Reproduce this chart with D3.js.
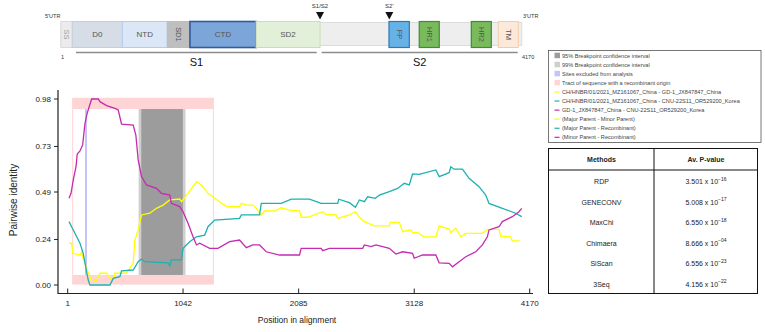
<!DOCTYPE html>
<html><head>
<meta charset="utf-8">
<script src="https://cdn.jsdelivr.net/npm/d3@7"></script>
<style>
  body { margin: 0; background: #fff; }
  svg text { font-family: "Liberation Sans", Arial, sans-serif; }
</style>
</head>
<body>
<svg id="chart" width="765" height="332"></svg>
<script>

// ---- genome map ----
const domainNames  = ["SS", "D0", "NTD", "SD1", "CTD", "SD2", "FP", "HR1", "HR2", "TM"];
const domainStarts = [1, 103, 556, 963, 1168, 1766, 2969, 3243, 3714, 3958];
const domainEnds   = [103, 556, 963, 1168, 1766, 2345, 3153, 3424, 3895, 4139];
const domainFill   = ["#ececec", "#d6dde7", "#dbe7f6", "#bfbfbf", "#7ca5da", "#e2f0d9", "#66b2e6", "#79ba5c", "#79ba5c", "#fde9d9"];
const domainStroke = ["#dadada", "#c3cfdd", "#b3cdef", "#bdbdbd", "#2f5c9c", "#c6e0b4", "#2e78b8", "#3f8a3f", "#3f8a3f", "#f7caa9"];
const domainVertical = [true, false, false, true, false, false, true, true, true, true];
const cleavageSites = ["S1/S2", "S2'"];
const cleavagePos   = [2345, 2972];
const subunitNames  = ["S1", "S2"];
const subunitStarts = [137, 2360];
const subunitEnds   = [2315, 4134];

// ---- recombination plot ----
const xTicks = [1, 1042, 2085, 3128, 4170];
const yTicks = [0.00, 0.24, 0.49, 0.73, 0.98];
const tract = [46, 1316];
const ci99 = [641, 1064];
const ci95 = [665, 1040];
const excludedSite = 166;

// (Major Parent - Minor Parent)
const yellowPos = [13,37,46,112,127,136,157,177,202,217,262,292,352,382,412,427,532,592,607,637,667,742,802,862,922,1012,1027,1087,1163,1208,1267,1372,1433,1552,1568,1613,1672,1703,1748,1778,1868,1928,2003,2093,2108,2167,2302,2333,2423,2438,2543,2597,2633,2678,2768,2903,2912,2993,3023,3098,3113,3158,3218,3323,3353,3443,3458,3503,3548,3593,3743,3788,3893,3908,3998,4013,4079];
const yellowVal = [0.220,0.220,0.167,0.158,0.175,0.149,0.114,0.079,0.044,0.017,0.026,0.062,0.062,0.035,0.026,0.062,0.062,0.114,0.237,0.290,0.369,0.378,0.404,0.421,0.448,0.453,0.439,0.483,0.544,0.527,0.483,0.439,0.413,0.413,0.430,0.421,0.421,0.404,0.369,0.390,0.390,0.407,0.395,0.391,0.357,0.357,0.386,0.372,0.369,0.351,0.369,0.386,0.357,0.334,0.312,0.312,0.330,0.330,0.281,0.290,0.276,0.276,0.254,0.254,0.312,0.295,0.276,0.299,0.254,0.272,0.272,0.293,0.293,0.258,0.254,0.233,0.233];

// (Major Parent - Recombinant)
const tealPos = [13,51,112,141,166,186,202,382,412,472,487,592,637,667,697,907,922,937,1027,1042,1102,1163,1237,1267,1327,1552,1568,1732,1748,1928,2018,2183,2288,2438,2447,2543,2597,2633,2678,2708,2777,2813,2903,2978,3038,3083,3113,3173,3323,3353,3443,3458,3488,3563,3623,3713,3773,3803,3923,4043,4098];
const tealVal = [0.334,0.290,0.220,0.167,0.088,0.026,0.000,0.000,0.035,0.044,0.075,0.079,0.123,0.137,0.123,0.117,0.100,0.132,0.132,0.193,0.228,0.254,0.263,0.307,0.342,0.351,0.369,0.369,0.430,0.430,0.452,0.452,0.430,0.430,0.452,0.434,0.409,0.448,0.439,0.465,0.457,0.474,0.492,0.509,0.536,0.527,0.585,0.583,0.606,0.571,0.592,0.623,0.610,0.610,0.562,0.518,0.474,0.430,0.404,0.378,0.360];

// (Minor Parent - Recombinant)
const magentaPos = [13,31,51,76,87,112,136,157,177,195,217,277,292,352,427,457,487,592,616,637,667,712,802,847,922,937,1012,1042,1087,1132,1163,1192,1282,1357,1462,1552,1613,1672,1732,1793,1913,2093,2108,2288,2302,2363,2663,2678,2738,2783,2903,2963,3023,3113,3128,3203,3323,3353,3443,3473,3533,3593,3683,3743,3788,3803,3893,3923,4013,4073,4098];
const magentaVal = [0.457,0.483,0.553,0.623,0.690,0.706,0.738,0.852,0.905,0.939,0.980,0.980,0.966,0.945,0.931,0.922,0.847,0.843,0.790,0.659,0.571,0.527,0.509,0.483,0.474,0.430,0.413,0.386,0.325,0.254,0.211,0.220,0.193,0.193,0.228,0.237,0.197,0.211,0.211,0.175,0.158,0.158,0.193,0.193,0.181,0.193,0.193,0.211,0.202,0.211,0.193,0.163,0.175,0.167,0.141,0.158,0.158,0.117,0.114,0.096,0.123,0.149,0.175,0.211,0.254,0.290,0.307,0.334,0.360,0.386,0.404];

const seriesColors = ["#ffff00", "#1fb0b0", "#c42bb0"];

// ---- legend ----
const legendLabels = ["95% Breakpoint confidence interval", "99% Breakpoint confidence interval",
  "Sites excluded from analysis", "Tract of sequence with a recombinant origin",
  "CH/HNBR/01/2021_MZ161067_China - GD-1_JX847847_China",
  "CH/HNBR/01/2021_MZ161067_China - CNU-22S11_OR529200_Korea",
  "GD-1_JX847847_China - CNU-22S11_OR529200_Korea",
  "(Major Parent - Minor Parent)", "(Major Parent - Recombinant)", "(Minor Parent - Recombinant)"];
const legendKinds  = ["box", "box", "box", "box", "line", "line", "line", "line", "line", "line"];
const legendColors = ["#9c9c9c", "#cfcfcf", "#c4c4f6", "#ffd4d4", "#ffff00", "#1fb0b0", "#c42bb0", "#ffff00", "#1fb0b0", "#c42bb0"];

// ---- table ----
const methods   = ["RDP", "GENECONV", "MaxChi", "Chimaera", "SiScan", "3Seq"];
const pMantissa = ["3.501", "5.008", "6.550", "8.666", "6.556", "4.156"];
const pExponent = ["16", "17", "18", "04", "23", "22"];


const svg = d3.select("#chart");

// ====== genome map ======
const g = d3.scaleLinear().domain([1, 4170]).range([61, 521.7]);
const map = svg.append("g");

map.append("rect")
  .attr("x", g(1)).attr("y", 22.5)
  .attr("width", g(4170) - g(1)).attr("height", 23)
  .attr("fill", "#eeeeee").attr("stroke", "#dcdcdc");

domainNames.forEach((name, i) => {
  let x0 = g(domainStarts[i]), x1 = g(domainEnds[i]);
  let wide = name === "CTD" || name === "FP" || name.startsWith("HR");
  map.append("rect")
    .attr("x", x0).attr("y", 21.5)
    .attr("width", x1 - x0).attr("height", 26)
    .attr("fill", domainFill[i])
    .attr("stroke", domainStroke[i])
    .attr("stroke-width", name === "CTD" ? 1.6 : (wide ? 1.2 : 1));
  let cx = (x0 + x1) / 2;
  let t = map.append("text")
    .attr("font-size", domainVertical[i] ? 7.5 : 8)
    .attr("fill", name === "SS" ? "#a0a0a0" : "#555")
    .attr("text-anchor", "middle")
    .attr("dominant-baseline", "central")
    .text(name);
  if (domainVertical[i]) t.attr("transform", "translate(" + cx + ",34.5) rotate(90)");
  else t.attr("x", cx).attr("y", 34.5);
});

cleavageSites.forEach((lab, i) => {
  let cx = g(cleavagePos[i]);
  map.append("path")
    .attr("d", "M" + (cx - 4) + ",12 L" + (cx + 4) + ",12 L" + cx + ",19.5 Z")
    .attr("fill", "#111");
  map.append("text").attr("x", cx).attr("y", 8)
    .attr("font-size", 6).attr("text-anchor", "middle").attr("fill", "#333")
    .text(lab);
});

subunitNames.forEach((lab, i) => {
  map.append("line")
    .attr("x1", g(subunitStarts[i])).attr("x2", g(subunitEnds[i]))
    .attr("y1", 52.5).attr("y2", 52.5)
    .attr("stroke", "#8c8c8c").attr("stroke-width", 1.5);
  map.append("text")
    .attr("x", (g(subunitStarts[i]) + g(subunitEnds[i])) / 2).attr("y", 66)
    .attr("font-size", 11).attr("text-anchor", "middle").attr("fill", "#111")
    .text(lab);
});

map.append("text").attr("x", 45).attr("y", 18).attr("font-size", 5.5).attr("fill", "#333").text("5'UTR");
map.append("text").attr("x", 523).attr("y", 18).attr("font-size", 5.5).attr("fill", "#333").text("3'UTR");
map.append("text").attr("x", 61).attr("y", 59).attr("font-size", 5.5).attr("fill", "#333").text("1");
map.append("text").attr("x", 522).attr("y", 59).attr("font-size", 5.5).attr("fill", "#333").text("4170");

// ====== recombination plot ======
const x = d3.scaleLinear().domain([1, 4170]).range([67.7, 529.7]);
const y = d3.scaleLinear().domain([0, 0.98]).range([285, 99]);
const plot = svg.append("g");

// tract of recombinant origin
plot.append("rect")
  .attr("x", x(tract[0])).attr("y", y(0.984))
  .attr("width", x(tract[1]) - x(tract[0])).attr("height", y(0.005) - y(0.984))
  .attr("fill", "none").attr("stroke", "#ffd4d4").attr("stroke-width", 1);
plot.append("rect")
  .attr("x", x(tract[0])).attr("y", y(0.984))
  .attr("width", x(tract[1]) - x(tract[0])).attr("height", y(0.927) - y(0.984))
  .attr("fill", "#ffd4d4");
plot.append("rect")
  .attr("x", x(tract[0])).attr("y", y(0.053))
  .attr("width", x(tract[1]) - x(tract[0])).attr("height", y(0.005) - y(0.053))
  .attr("fill", "#ffd4d4");

// breakpoint confidence intervals
plot.append("rect")
  .attr("x", x(ci99[0])).attr("y", y(0.927))
  .attr("width", x(ci99[1]) - x(ci99[0])).attr("height", y(0.053) - y(0.927))
  .attr("fill", "#cfcfcf");
plot.append("rect")
  .attr("x", x(ci95[0])).attr("y", y(0.927))
  .attr("width", x(ci95[1]) - x(ci95[0])).attr("height", y(0.053) - y(0.927))
  .attr("fill", "#9c9c9c");

// excluded site
plot.append("line")
  .attr("x1", x(excludedSite)).attr("x2", x(excludedSite))
  .attr("y1", y(0.927)).attr("y2", y(0.053))
  .attr("stroke", "#c4c4f6").attr("stroke-width", 2);

// lines
const line = d3.line().x(d => x(d[0])).y(d => y(d[1]));
const series = [
  d3.zip(yellowPos, yellowVal),
  d3.zip(tealPos, tealVal),
  d3.zip(magentaPos, magentaVal)
];
series.forEach((s, i) => {
  plot.append("path")
    .datum(s)
    .attr("d", line)
    .attr("fill", "none")
    .attr("stroke", seriesColors[i])
    .attr("stroke-width", 1.3);
});

// axes
const axes = svg.append("g").attr("font-size", 8).attr("fill", "#222");
axes.append("path")
  .attr("d", "M58,90 L58,293.5 L533,293.5")
  .attr("fill", "none").attr("stroke", "#222").attr("stroke-width", 1.2);
yTicks.forEach(t => {
  axes.append("line").attr("x1", 54).attr("x2", 58).attr("y1", y(t)).attr("y2", y(t))
    .attr("stroke", "#222");
  axes.append("text").attr("x", 51).attr("y", y(t)).attr("text-anchor", "end")
    .attr("dominant-baseline", "central").text(d3.format(".2f")(t));
});
xTicks.forEach(t => {
  axes.append("line").attr("x1", x(t)).attr("x2", x(t)).attr("y1", 288.5).attr("y2", 293.5)
    .attr("stroke", "#222");
  axes.append("text").attr("x", x(t)).attr("y", 306).attr("text-anchor", "middle").text(t);
});
axes.append("text").attr("x", 297).attr("y", 323).attr("text-anchor", "middle")
  .attr("font-size", 8.5).text("Position in alignment");
axes.append("text").attr("transform", "translate(17,200) rotate(-90)")
  .attr("text-anchor", "middle").attr("font-size", 10).text("Pairwise identity");

// ====== legend ======
const leg = svg.append("g");
leg.append("rect").attr("x", 548.5).attr("y", 50.5).attr("width", 212.5).attr("height", 92)
  .attr("fill", "#fff").attr("stroke", "#555").attr("stroke-width", 0.8);
legendLabels.forEach((lab, i) => {
  let cy = 55.7 + i * 9.07;
  if (legendKinds[i] === "box") {
    leg.append("rect").attr("x", 554.5).attr("y", cy - 3).attr("width", 5.5).attr("height", 5.5)
      .attr("fill", legendColors[i]);
  } else {
    leg.append("line").attr("x1", 554.5).attr("x2", 559.5).attr("y1", cy).attr("y2", cy)
      .attr("stroke", legendColors[i]).attr("stroke-width", 1.2);
  }
  leg.append("text").attr("x", 562).attr("y", cy).attr("dominant-baseline", "central")
    .attr("font-size", 5.6).attr("fill", "#444").text(lab);
});

// ====== table ======
const tab = svg.append("g").attr("font-size", 7).attr("fill", "#222");
tab.append("rect").attr("x", 548.5).attr("y", 148.5).attr("width", 209).attr("height", 145)
  .attr("fill", "#fff").attr("stroke", "#111").attr("stroke-width", 1);
tab.append("line").attr("x1", 548.5).attr("x2", 757.5).attr("y1", 170).attr("y2", 170)
  .attr("stroke", "#111").attr("stroke-width", 1);
tab.append("line").attr("x1", 654).attr("x2", 654).attr("y1", 148.5).attr("y2", 293.5)
  .attr("stroke", "#111").attr("stroke-width", 1);
tab.append("text").attr("x", 601.5).attr("y", 159.5).attr("text-anchor", "middle")
  .attr("dominant-baseline", "central").attr("font-weight", "bold").text("Methods");
tab.append("text").attr("x", 706).attr("y", 159.5).attr("text-anchor", "middle")
  .attr("dominant-baseline", "central").attr("font-weight", "bold").text("Av. P-value");
methods.forEach((m, i) => {
  let cy = 181.5 + i * 20.5;
  tab.append("text").attr("x", 601.5).attr("y", cy + 2.5).attr("text-anchor", "middle").text(m);
  let t = tab.append("text").attr("x", 706).attr("y", cy + 2.5).attr("text-anchor", "middle");
  t.append("tspan").text(pMantissa[i] + " x 10");
  t.append("tspan").attr("font-size", 5).attr("dy", -3.5).text("\u2212" + pExponent[i]);
});

</script>
</body>
</html>
